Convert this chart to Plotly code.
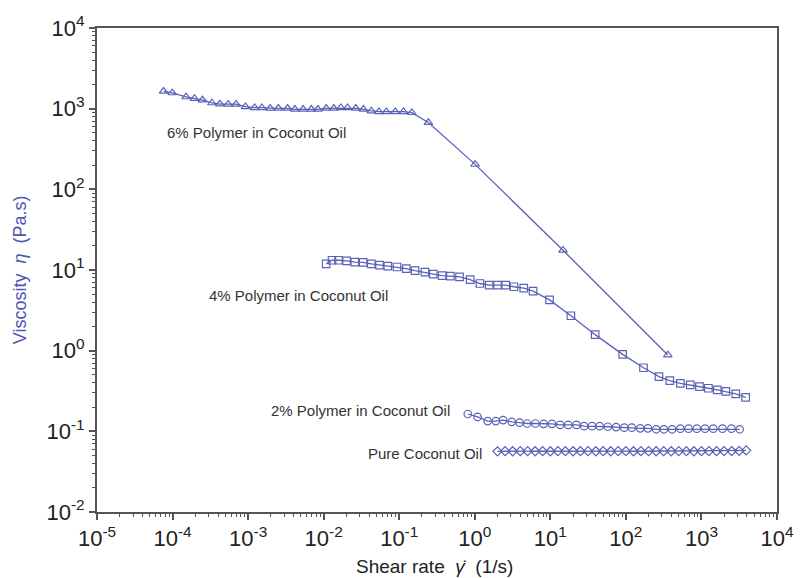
import plotly.graph_objects as go

# ---- data ----
x6 = [7.6e-5, 9.9e-5, 1.51e-4, 1.95e-4, 2.49e-4, 3.31e-4, 4.22e-4, 5.46e-4, 6.95e-4, 9.23e-4,
      1.22e-3, 1.52e-3, 1.96e-3, 2.52e-3, 3.33e-3, 4.16e-3, 5.35e-3, 6.86e-3, 8.39e-3, 0.0108,
      0.0136, 0.0169, 0.0207, 0.0266, 0.0336, 0.0427, 0.0538, 0.0676, 0.0887, 0.114,
      0.147, 0.243, 1.01, 14.7, 359]
y6 = [1640, 1570, 1400, 1340, 1280, 1180, 1140, 1137, 1137, 1057,
      1028, 1028, 1010, 1010, 1010, 982, 982, 982, 982, 1010,
      1010, 1028, 1028, 1010, 982, 936, 918, 918, 918, 918,
      893, 673, 204, 17.6, 0.885]

x4 = [0.0108, 0.0129, 0.0157, 0.0201, 0.0258, 0.0333, 0.0427, 0.0548, 0.0706, 0.0934,
      0.124, 0.162, 0.219, 0.282, 0.370, 0.475, 0.629, 0.869, 1.17, 1.55,
      2.0, 2.57, 3.30, 4.45, 5.91, 9.75, 18.7, 39.2, 90.6, 171,
      274, 381, 526, 711, 942, 1236, 1621, 2106, 2846, 3846]
y4 = [11.9, 13.2, 13.2, 13.0, 12.5, 12.4, 11.9, 11.5, 11.2, 10.9,
      10.4, 9.8, 9.4, 8.9, 8.5, 8.4, 8.2, 7.6, 6.8, 6.5,
      6.5, 6.5, 6.2, 5.97, 5.48, 4.26, 2.71, 1.58, 0.90, 0.614,
      0.476, 0.426, 0.394, 0.377, 0.359, 0.342, 0.327, 0.312, 0.292, 0.264]

x2 = [0.809, 1.09, 1.48, 1.90, 2.37, 3.08, 3.92, 4.93, 6.34, 8.14,
      10.5, 13.5, 17.3, 22.2, 28.0, 35.6, 44.9, 57.7, 74.3, 95.3,
      120, 155, 196, 252, 318, 409, 526, 676, 868, 1117,
      1435, 1900, 2490, 3206]
y2 = [0.164, 0.151, 0.134, 0.134, 0.138, 0.131, 0.128, 0.125, 0.125, 0.124,
      0.124, 0.120, 0.120, 0.120, 0.116, 0.116, 0.116, 0.114, 0.113, 0.111,
      0.111, 0.109, 0.109, 0.106, 0.106, 0.106, 0.108, 0.108, 0.108, 0.108,
      0.108, 0.108, 0.108, 0.106]

x0 = [2.0, 2.52, 3.17, 4.0, 5.0, 6.3, 7.9, 10, 12.6, 15.8,
      20, 25, 31.6, 40, 50, 63, 79, 100, 126, 158,
      200, 251, 316, 398, 501, 631, 794, 1000, 1259, 1585,
      1995, 2512, 3162, 3908]
y0 = [0.0565, 0.0568, 0.0566, 0.0567, 0.0568, 0.0566, 0.0567, 0.0566, 0.0568, 0.0567,
      0.0566, 0.0567, 0.0568, 0.0566, 0.0567, 0.0566, 0.0568, 0.0567, 0.0566, 0.0567,
      0.0568, 0.0566, 0.0567, 0.0566, 0.0568, 0.0567, 0.0566, 0.0567, 0.0568, 0.0567,
      0.0568, 0.0570, 0.0572, 0.0580]

labels = ["6% Polymer in Coconut Oil", "4% Polymer in Coconut Oil",
          "2% Polymer in Coconut Oil", "Pure Coconut Oil"]
label_pos = [(-4.10, 2.70), (-3.54, 0.68), (-2.73, -0.74), (-1.435, -1.277)]

x_tickvals = [1e-5, 1e-4, 1e-3, 1e-2, 1e-1, 1, 10, 100, 1000, 10000]
x_ticktext = ["10<sup>-5</sup>", "10<sup>-4</sup>", "10<sup>-3</sup>", "10<sup>-2</sup>",
              "10<sup>-1</sup>", "10<sup>0</sup>", "10<sup>1</sup>", "10<sup>2</sup>",
              "10<sup>3</sup>", "10<sup>4</sup>"]
y_tickvals = [1e-2, 1e-1, 1, 10, 100, 1000, 10000]
y_ticktext = ["10<sup>-2</sup>", "10<sup>-1</sup>", "10<sup>0</sup>", "10<sup>1</sup>",
              "10<sup>2</sup>", "10<sup>3</sup>", "10<sup>4</sup>"]

# ---- styling ----
C = "#5a62b8"
AX = "#555555"
FONT = "Liberation Sans, Arial, sans-serif"
NB = "\u00a0"

fig = go.Figure()
series = [(x6, y6, "triangle-up-open", 7.5), (x4, y4, "square-open", 7.5),
          (x2, y2, "circle-open", 7.5), (x0, y0, "diamond-open", 7)]
for xs, ys, sym, sz in series:
    fig.add_trace(go.Scatter(
        x=xs, y=ys, mode="lines+markers",
        line=dict(color=C, width=1.3),
        marker=dict(symbol=sym, size=sz, color=C, line=dict(color=C, width=1.2)),
        showlegend=False))

for txt, (lx, ly) in zip(labels, label_pos):
    fig.add_annotation(x=lx, y=ly, xref="x", yref="y", text=txt, showarrow=False,
                       xanchor="left", yanchor="middle",
                       font=dict(family=FONT, size=15, color="#333333"))

# axis titles
fig.add_annotation(x=-0.113, y=0.5, xref="paper", yref="paper",
                   text="Viscosity" + NB * 2 + "<i>η</i>" + NB * 2 + "(Pa.s)",
                   textangle=-90, showarrow=False,
                   xanchor="center", yanchor="middle",
                   font=dict(family=FONT, size=18, color="#4c54b4"))
fig.add_annotation(x=0.497, y=-0.112, xref="paper", yref="paper",
                   text="Shear rate" + NB * 2 + "<i>γ̇</i>" + NB * 2 + "(1/s)",
                   showarrow=False, xanchor="center", yanchor="middle",
                   font=dict(family=FONT, size=19, color="#222222"))

axis_common = dict(
    type="log", showgrid=False, zeroline=False,
    showline=True, linecolor=AX, linewidth=2, mirror=True,
    ticks="outside", ticklen=6, tickwidth=1.5, tickcolor=AX,
    tickfont=dict(family=FONT, size=22, color="#222222"),
    minor=dict(ticks="outside", ticklen=3, tickwidth=1.2, tickcolor=AX, dtick="D1", showgrid=False),
)

fig.update_xaxes(range=[-5, 4], tickvals=x_tickvals, ticktext=x_ticktext, **axis_common)
fig.update_yaxes(range=[-2, 4], tickvals=y_tickvals, ticktext=y_ticktext, **axis_common)

fig.update_layout(
    width=806, height=578,
    margin=dict(l=97, r=21, t=22, b=66),
    plot_bgcolor="white", paper_bgcolor="white",
    font=dict(family=FONT),
)

fig.write_html("out.html")
